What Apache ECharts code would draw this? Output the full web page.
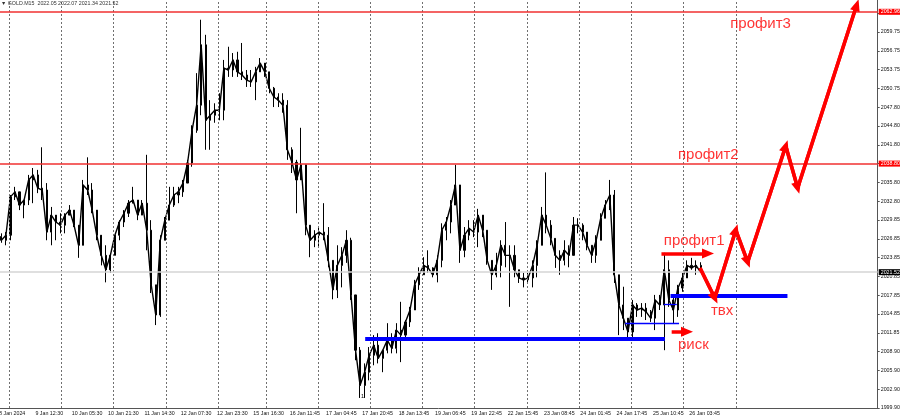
<!DOCTYPE html>
<html><head><meta charset="utf-8">
<script src="https://cdn.jsdelivr.net/npm/echarts@6/dist/echarts.min.js"></script>
<style>html,body{margin:0;padding:0;background:#fff}#c{width:900px;height:420px}</style>
</head><body><div id="c"></div>
<script>
// ---- data ----
const symbolTitle = '\u25BC GOLD.M15  2022.05 2022.07 2021.34 2021.52';
// each candle aggregates 8 M15 bars; x unit = M15 bar index
const binStartBar = -64;
const barsPerBin = 8;
const opens = [2027.2,2026.6,2027.4,2033.5,2034.3,2032.2,2033.0,2036.2,2037.0,2034.9,2034.6,2027.9,2030.6,2029.5,2029.0,2030.6,2031.4,2029.0,2025.8,2035.4,
2034.6,2031.4,2027.4,2024.2,2021.9,2024.2,2027.4,2029.5,2030.9,2032.5,2033.0,2030.6,2032.5,2028.2,2019.5,2014.7,2026.6,2029.8,2032.2,2033.8,
2034.3,2035.7,2038.9,2044.1,2048.1,2057.7,2045.7,2046.5,2047.3,2047.3,2054.0,2053.7,2055.3,2053.4,2052.9,2052.1,2051.8,2053.4,2054.8,2053.4,
2050.8,2049.4,2048.9,2048.1,2041.0,2039.0,2036.2,2038.6,2029.0,2026.6,2027.4,2027.9,2027.4,2023.4,2018.7,2022.6,2024.2,2026.6,2017.9,2009.1,
2003.5,2005.6,2008.3,2009.9,2007.8,2009.1,2010.7,2009.4,2012.3,2011.5,2013.6,2015.5,2019.5,2021.1,2022.6,2022.2,2021.1,2023.4,2028.2,2029.5,
2032.2,2035.4,2025.0,2027.4,2028.5,2027.9,2030.6,2028.2,2023.4,2021.1,2022.6,2025.8,2024.2,2024.2,2021.9,2020.6,2020.3,2020.6,2022.6,2025.8,
2030.6,2029.0,2026.9,2024.2,2023.4,2025.0,2024.2,2029.0,2029.0,2027.9,2025.8,2024.2,2026.6,2030.1,2032.2,2033.8,2021.1,2016.3,2014.2,2012.0,
2016.3,2015.5,2015.8,2015.2,2014.2,2017.1,2016.3,2021.9,2017.1,2015.5,2019.0,2020.6,2022.6,2022.2,2022.6];
const highs = [2027.7,2027.9,2033.8,2035.1,2034.3,2033.0,2037.0,2038.1,2037.8,2041.4,2035.7,2031.9,2030.3,2030.9,2030.9,2032.2,2031.4,2029.0,2036.2,2039.8,
2035.7,2030.9,2026.6,2025.8,2024.2,2027.4,2029.8,2031.4,2033.0,2035.1,2033.0,2033.0,2040.2,2029.8,2019.5,2027.4,2030.3,2035.1,2035.1,2035.1,
2036.2,2039.4,2044.9,2053.2,2061.7,2059.3,2048.9,2048.4,2050.0,2055.3,2057.4,2056.4,2056.6,2058.0,2053.7,2053.7,2054.2,2055.6,2054.8,2052.6,
2051.0,2050.0,2050.0,2048.9,2041.4,2039.4,2044.5,2038.3,2028.7,2028.2,2028.7,2032.5,2028.7,2023.4,2025.8,2025.5,2028.2,2027.0,2017.9,2009.6,
2007.0,2009.6,2011.5,2011.8,2009.1,2013.4,2011.8,2013.4,2016.8,2013.9,2016.0,2020.3,2022.3,2023.9,2025.0,2022.3,2024.2,2029.3,2030.3,2033.0,
2038.6,2034.6,2028.7,2029.8,2029.8,2031.6,2030.6,2028.2,2023.4,2024.6,2026.6,2029.5,2025.8,2025.8,2021.9,2021.4,2021.4,2023.4,2026.6,2031.9,
2037.4,2029.8,2026.9,2025.0,2026.6,2025.8,2030.3,2030.1,2029.3,2027.9,2025.8,2027.4,2030.9,2033.0,2036.2,2034.6,2021.1,2019.2,2014.2,2017.1,
2016.6,2016.6,2016.6,2015.5,2017.9,2017.9,2024.6,2023.4,2017.4,2019.5,2021.4,2023.4,2023.8,2023.4,2023.1];
const lows = [2026.2,2025.8,2026.6,2033.0,2031.4,2030.1,2032.2,2032.5,2034.1,2033.0,2026.6,2025.8,2026.6,2027.7,2027.7,2030.6,2028.7,2023.8,2025.8,2033.8,
2030.9,2026.6,2022.6,2019.9,2021.4,2024.2,2026.6,2028.7,2030.3,2032.5,2029.8,2030.6,2025.0,2018.2,2013.1,2014.4,2026.6,2029.8,2031.9,2032.5,
2033.5,2035.7,2038.3,2043.7,2046.5,2041.0,2041.0,2045.3,2045.7,2045.7,2052.6,2052.6,2052.6,2052.1,2051.0,2051.0,2048.9,2053.7,2052.6,2050.0,
2047.8,2047.8,2046.9,2039.4,2037.3,2030.9,2036.2,2027.4,2023.9,2025.5,2025.5,2026.6,2022.3,2017.2,2017.4,2019.1,2023.0,2017.1,2007.5,2001.5,
2001.5,2004.3,2006.7,2007.0,2005.6,2008.6,2008.6,2008.6,2007.2,2010.7,2012.8,2015.5,2018.7,2021.4,2021.4,2020.7,2019.9,2022.3,2026.6,2027.7,
2033.0,2023.0,2023.9,2026.6,2027.1,2025.5,2027.1,2022.7,2018.7,2020.7,2020.7,2022.3,2016.0,2020.7,2019.8,2019.1,2019.8,2019.1,2020.7,2025.8,
2027.7,2025.8,2022.2,2021.1,2022.6,2022.3,2024.2,2027.7,2026.6,2025.0,2023.0,2023.0,2026.6,2030.1,2031.4,2019.8,2011.5,2012.3,2011.2,2011.2,
2014.4,2014.4,2013.9,2013.6,2012.3,2015.5,2009.1,2016.0,2013.4,2014.4,2018.4,2020.6,2021.9,2021.1,2021.5];
const closes = [2026.6,2027.4,2033.5,2034.3,2032.2,2033.0,2036.2,2037.0,2034.9,2034.6,2027.9,2030.6,2029.5,2029.0,2030.6,2031.4,2029.0,2025.8,2035.4,2034.6,
2031.4,2027.4,2024.2,2021.9,2024.2,2027.4,2029.5,2030.9,2032.5,2033.0,2030.6,2032.5,2028.2,2019.5,2014.7,2026.6,2029.8,2032.2,2033.8,2034.3,
2035.7,2038.9,2044.1,2048.1,2057.7,2045.7,2046.5,2047.3,2047.3,2054.0,2053.7,2055.3,2053.4,2052.9,2052.1,2051.8,2053.4,2054.8,2053.4,2050.8,
2049.4,2048.9,2048.1,2041.0,2039.0,2036.2,2038.6,2029.0,2026.6,2027.4,2027.9,2027.4,2023.4,2018.7,2022.6,2024.2,2026.6,2017.9,2009.1,2003.5,
2005.6,2008.3,2009.9,2007.8,2009.1,2010.7,2009.4,2012.3,2011.5,2013.6,2015.5,2019.5,2021.1,2022.6,2022.2,2021.1,2023.4,2028.2,2029.5,2032.2,
2035.4,2025.0,2027.4,2028.5,2027.9,2030.6,2028.2,2023.4,2021.1,2022.6,2025.8,2024.2,2024.2,2021.9,2020.6,2020.3,2020.6,2022.6,2025.8,2030.6,
2029.0,2026.9,2024.2,2023.4,2025.0,2024.2,2029.0,2029.0,2027.9,2025.8,2024.2,2026.6,2030.1,2032.2,2033.8,2021.1,2016.3,2014.2,2012.0,2016.3,
2015.5,2015.8,2015.2,2014.2,2017.1,2016.3,2021.9,2017.1,2015.5,2019.0,2020.6,2022.6,2022.2,2022.6,2021.5];

const xMin = -64, xMax = 1484, xLabelStep = 64;
const xLabels = ['8 Jan 2024','9 Jan 12:30','10 Jan 05:30','10 Jan 21:30','11 Jan 14:30','12 Jan 07:30','12 Jan 23:30',
  '15 Jan 16:30','16 Jan 11:45','17 Jan 04:45','17 Jan 20:45','18 Jan 13:45','19 Jan 06:45','19 Jan 22:45',
  '22 Jan 15:45','23 Jan 08:45','24 Jan 01:45','24 Jan 17:45','25 Jan 10:45','26 Jan 03:45'];
const dayStarts = [-46, 46, 138, 230, 322, 406, 498, 590, 682, 774, 866, 958, 1050, 1142, 1234];

const yMin = 1999.90, yMax = 2064.84, yLabelStep = 2.9925;
const yLabels = ['1999.90','2002.90','2005.90','2008.90','2011.85','2014.85','2017.85','2020.85','2023.85','2026.85',
  '2029.85','2032.80','2035.80','2038.80','2041.80','2044.80','2047.80','2050.75','2053.75','2056.75','2059.75'];

const redLevels = [2062.96, 2038.80];
const bidPrice = 2021.52;
// [startBar, endBar, price]
const thickBlue = [[581, 1109, 2010.92], [1119, 1325, 2017.83]];
const thinBlue = [[1039, 1134, 2013.37], [1107, 1130, 2016.41]];
// arrows: [[bar, price], [bar, price]]
const arrows = [[[1103, 2024.51], [1185, 2024.51]], [[1121, 2012.03], [1148, 2012.03]]];
const zigzag = [[1171, 2022.17], [1197, 2017.40], [1234, 2028.22], [1255, 2023.13], [1322, 2041.60], [1343, 2034.91], [1447, 2064.04]];
const notes = [['профит1', 1107, 2026.5], ['профит2', 1132, 2040.2], ['профит3', 1224, 2061.0], ['риск', 1132, 2009.9], ['твх', 1190, 2015.3]];
const markerText = '1';

// ---- chart ----
const FONT = 'Liberation Sans, Arial, sans-serif';
const RED = '#ff0000';
const barX = i => binStartBar + barsPerBin * i + barsPerBin / 2;
const candles = opens.map((o, i) => [barX(i), o, closes[i], lows[i], highs[i]]);
const closePath = closes.map((c, i) => [barX(i), c]);

const levelLines = [];
dayStarts.forEach(d => levelLines.push({xAxis: d, lineStyle: {color: '#707070', width: 1, type: [2, 2]}, label: {show: false}}));
levelLines.push({yAxis: bidPrice, lineStyle: {color: '#d4d4d4', width: 1.5, type: 'solid'},
  label: {show: true, position: 'end', distance: 1, formatter: bidPrice.toFixed(2), color: '#fff', backgroundColor: '#000',
    padding: [1, 2, 0, 2], fontSize: 5.3, fontFamily: FONT}});
redLevels.forEach(p => levelLines.push({yAxis: p, lineStyle: {color: '#f03030', width: 1.5, type: 'solid'},
  label: {show: true, position: 'end', distance: 1, formatter: p.toFixed(2), color: '#fff', backgroundColor: RED,
    padding: [1, 2, 0, 2], fontSize: 5.3, fontFamily: FONT}}));

const blueLines = [];
thickBlue.forEach(s => blueLines.push([{coord: [s[0], s[2]], lineStyle: {color: '#0000ff', width: 4, type: 'solid'}, label: {show: false}}, {coord: [s[1], s[2]]}]));
thinBlue.forEach(s => blueLines.push([{coord: [s[0], s[2]], lineStyle: {color: '#0000ff', width: 1.3, type: 'solid'}, label: {show: false}}, {coord: [s[1], s[2]]}]));

const arrowSegs = [];
arrows.forEach(a => arrowSegs.push([{coord: a[0]}, {coord: a[1]}]));
for (let i = 0; i < zigzag.length - 1; i++) arrowSegs.push([{coord: zigzag[i]}, {coord: zigzag[i + 1]}]);

const chart = echarts.init(document.getElementById('c'), null, {renderer: 'canvas'});
chart.setOption({
  animation: false,
  backgroundColor: '#fff',
  title: {text: symbolTitle, left: 1, top: 1, padding: 0,
    textStyle: {fontSize: 5.3, fontWeight: 'normal', color: '#333', fontFamily: FONT}},
  grid: {left: -0.9, right: 22.3, top: 0, bottom: 12, outerBoundsMode: 'none', containLabel: false},
  xAxis: {type: 'value', min: xMin, max: xMax, interval: xLabelStep,
    axisLine: {show: true, lineStyle: {color: '#555', width: 1}},
    axisTick: {show: false}, splitLine: {show: false},
    axisLabel: {show: true, align: 'left', margin: 3, fontSize: 5.3, color: '#111', fontFamily: FONT,
      showMaxLabel: false,
      formatter: v => { const k = (v - xMin) / xLabelStep; if (Math.abs(k - Math.round(k)) > 1e-6) return ''; return xLabels[Math.round(k)] || ''; }}},
  yAxis: [
    {type: 'value', min: yMin, max: yMax, show: false, splitLine: {show: false}},
    {type: 'value', position: 'right', min: 0, max: yMax - yMin, interval: yLabelStep,
      axisLine: {show: true, lineStyle: {color: '#555', width: 1}},
      axisTick: {show: true, inside: false, length: 2, lineStyle: {color: '#555'}},
      splitLine: {show: false},
      axisLabel: {show: true, margin: 3, fontSize: 5.3, color: '#111', fontFamily: FONT, showMaxLabel: false,
        formatter: v => { const k = v / yLabelStep; if (Math.abs(k - Math.round(k)) > 1e-6) return ''; return yLabels[Math.round(k)] || ''; }}}
  ],
  series: [
    {type: 'line', name: 'levels', xAxisIndex: 0, yAxisIndex: 0, data: [], silent: true, z: 1,
      markLine: {silent: true, symbol: ['none', 'none'], animation: false, emphasis: {disabled: true}, data: levelLines}},
    {type: 'line', name: 'GOLD close', xAxisIndex: 0, yAxisIndex: 0, data: closePath, symbol: 'none', silent: true, z: 3,
      lineStyle: {color: '#000', width: 1.4}, emphasis: {disabled: true}},
    {type: 'candlestick', name: 'GOLD', xAxisIndex: 0, yAxisIndex: 0, z: 4,
      dimensions: ['t', 'open', 'close', 'lowest', 'highest'],
      encode: {x: 0, y: [1, 2, 3, 4]},
      data: candles, barWidth: 1.6,
      itemStyle: {color: '#000', color0: '#000', borderColor: '#000', borderColor0: '#000', borderWidth: 1},
      emphasis: {disabled: true}, silent: true,
      markLine: {silent: true, symbol: ['none', 'none'], animation: false, emphasis: {disabled: true}, data: blueLines}
    },
    {type: 'line', name: 'plan', xAxisIndex: 0, yAxisIndex: 0, data: zigzag, symbol: 'none', silent: true, z: 10,
      lineStyle: {color: RED, width: 3.5}, emphasis: {disabled: true},
      markLine: {silent: true, symbol: ['none', 'triangle'], symbolSize: [10, 12], animation: false,
        lineStyle: {color: RED, width: 3.5, type: 'solid'}, label: {show: false}, emphasis: {disabled: true}, data: arrowSegs}
    },
    {type: 'scatter', name: 'notes', xAxisIndex: 0, yAxisIndex: 0, symbolSize: 0.1, silent: true, z: 11,
      itemStyle: {color: 'rgba(0,0,0,0)'},
      data: notes.map(n => ({name: n[0], value: [n[1], n[2]]})),
      label: {show: true, position: 'right', distance: 0, formatter: '{b}', color: RED, fontSize: 15, fontFamily: FONT}
    }
  ],
  graphic: [{type: 'text', left: 361, top: 393, silent: true,
    style: {text: markerText, fontSize: 5.5, fill: '#000', font: '5.5px ' + FONT}}]
});
</script></body></html>
